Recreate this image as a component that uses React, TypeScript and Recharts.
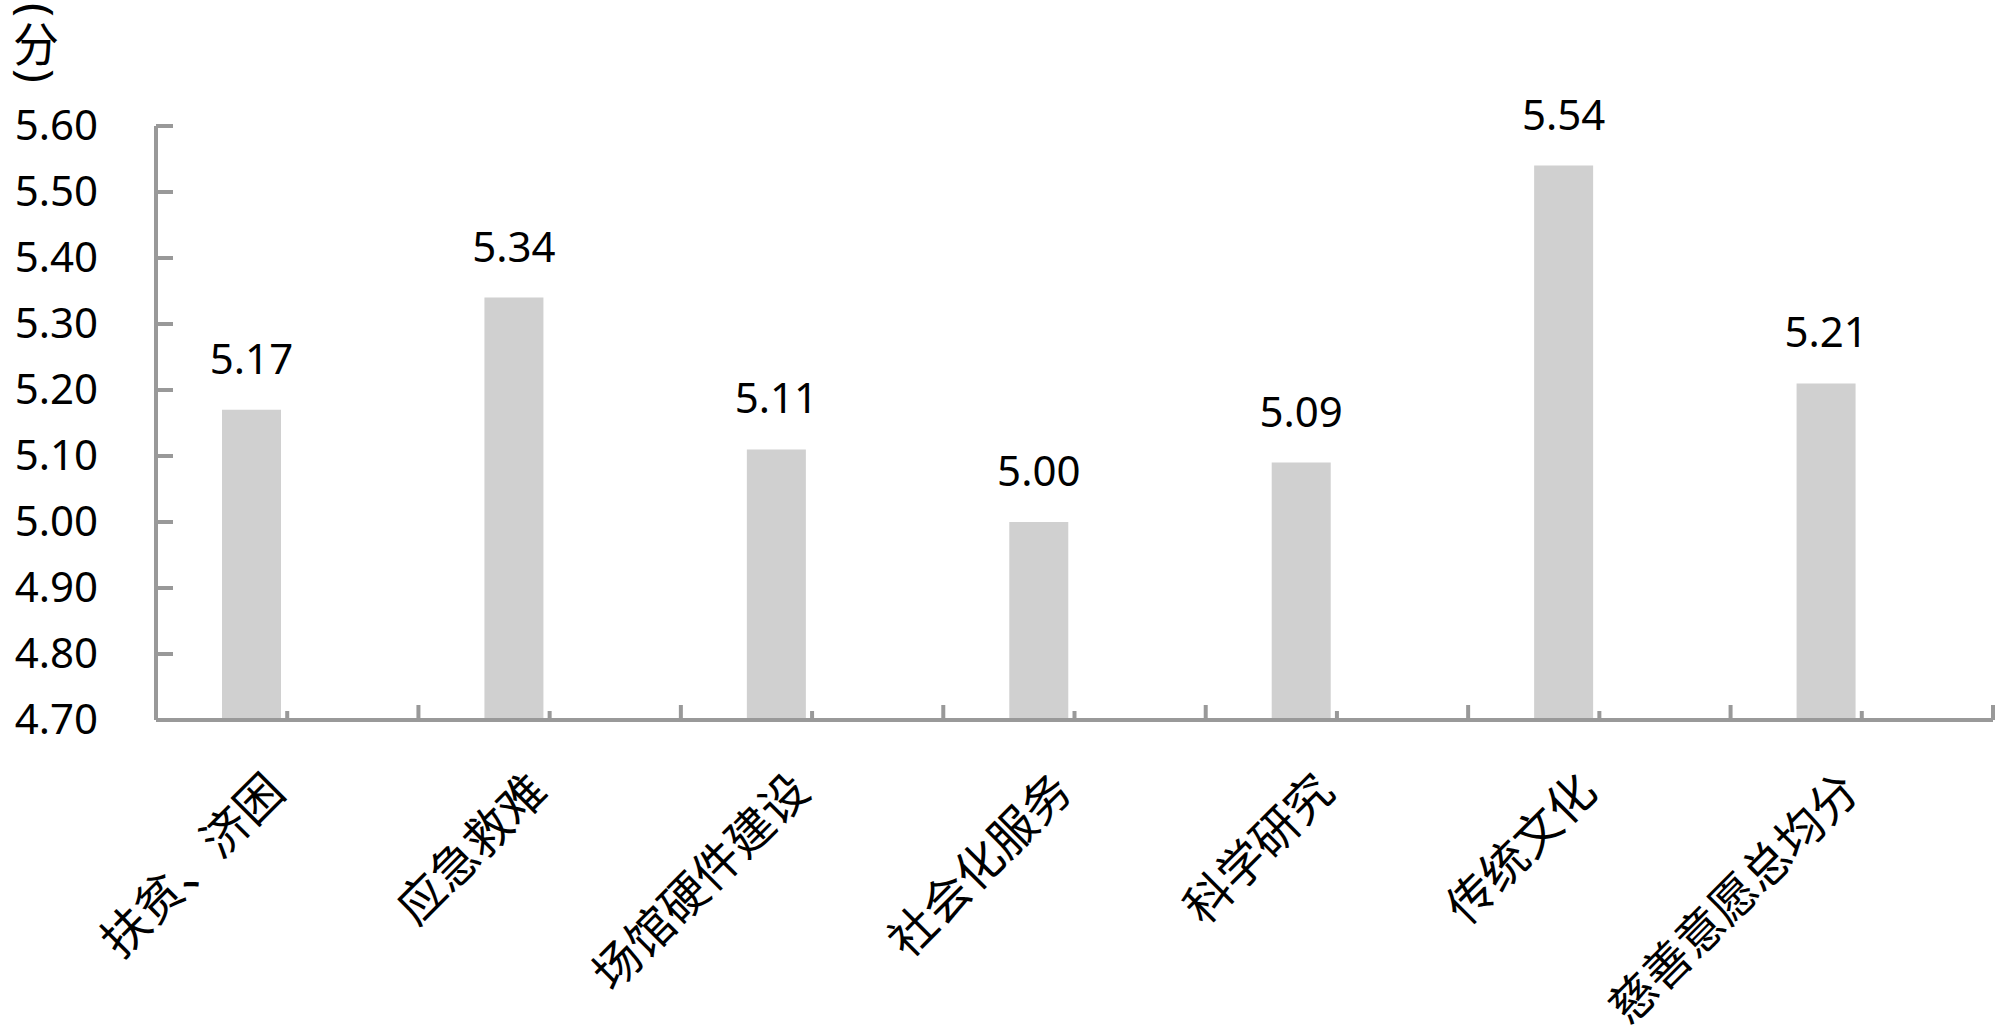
import { BarChart, Bar, XAxis, YAxis, LabelList } from "recharts";

const categories = [
  "扶贫、济困",
  "应急救难",
  "场馆硬件建设",
  "社会化服务",
  "科学研究",
  "传统文化",
  "慈善意愿总均分",
];
const scores = [5.17, 5.34, 5.11, 5.0, 5.09, 5.54, 5.21];
const yTicks = [4.7, 4.8, 4.9, 5.0, 5.1, 5.2, 5.3, 5.4, 5.5, 5.6];
const unitLabel = "分";

const data = categories.map((name, i) => ({ name, score: scores[i], blank: null }));

const W = 2000;
const H = 1031;
const LEFT = 156;
const RIGHT = 7;
const TOP = 126;
const X_AXIS_H = 311;
const AXIS = "#999999";
const band = (W - LEFT - RIGHT) / categories.length;

const numFont = "'Noto Sans', sans-serif";
const cjkFont = "'Noto Sans CJK SC', sans-serif";

function YTick(props: any) {
  const { x, y, payload } = props;
  return (
    <g>
      <line x1={x} x2={x + 17} y1={y} y2={y} stroke={AXIS} strokeWidth={4} />
      <text x={x - 58} y={y} dy={14} textAnchor="end" fontSize={42} fontFamily={numFont} fill="#000">
        {Number(payload.value).toFixed(2)}
      </text>
    </g>
  );
}

function XTick(props: any) {
  const { x, y, payload } = props;
  return (
    <g>
      <line x1={x} x2={x} y1={y} y2={y - 9} stroke={AXIS} strokeWidth={4} />
      <line x1={x + band / 2} x2={x + band / 2} y1={y} y2={y - 15} stroke={AXIS} strokeWidth={4} />
      <text
        transform={`translate(${x},${y + 74}) rotate(-45)`}
        textAnchor="end"
        fontSize={47}
        fontFamily={cjkFont}
        fill="#000"
      >
        {payload.value}
      </text>
    </g>
  );
}

// 竖排单位（分），括号旋转成上下弧
function UnitLabel() {
  return (
    <g>
      <text
        transform="translate(38,10) rotate(90)"
        textAnchor="middle"
        dominantBaseline="central"
        fontSize={46}
        fontFamily={numFont}
        fill="#000"
      >
        (
      </text>
      <text x={36} y={61} textAnchor="middle" fontSize={46} fontFamily={cjkFont} fill="#000">
        {unitLabel}
      </text>
      <text
        transform="translate(38,76) rotate(90)"
        textAnchor="middle"
        dominantBaseline="central"
        fontSize={46}
        fontFamily={numFont}
        fill="#000"
      >
        )
      </text>
    </g>
  );
}

export default function App() {
  return (
    <div style={{ position: "absolute", left: 0, top: 0, width: W, height: H, background: "#fff" }}>
      <svg width={90} height={90} style={{ position: "absolute", left: 0, top: 0 }}>
        <UnitLabel />
      </svg>
      <BarChart
        width={W}
        height={H}
        data={data}
        margin={{ top: TOP, right: RIGHT, bottom: 0, left: 0 }}
        barSize={59}
        barGap={12}
      >
        <XAxis
          dataKey="name"
          height={X_AXIS_H}
          interval={0}
          tickLine={false}
          tickSize={0}
          tickMargin={0}
          axisLine={{ stroke: AXIS, strokeWidth: 4 }}
          tick={<XTick />}
        />
        <YAxis
          width={LEFT}
          domain={[4.7, 5.6]}
          ticks={yTicks}
          interval={0}
          tickLine={false}
          tickSize={0}
          tickMargin={0}
          axisLine={{ stroke: AXIS, strokeWidth: 4 }}
          tick={<YTick />}
        />
        <Bar dataKey="score" fill="#d0d0d0" isAnimationActive={false}>
          <LabelList
            dataKey="score"
            position="top"
            offset={36}
            formatter={(v: any) => Number(v).toFixed(2)}
            style={{ fontSize: 42, fontFamily: numFont, fill: "#000" }}
          />
        </Bar>
        <Bar dataKey="blank" fill="#d0d0d0" isAnimationActive={false} />
      </BarChart>
    </div>
  );
}
